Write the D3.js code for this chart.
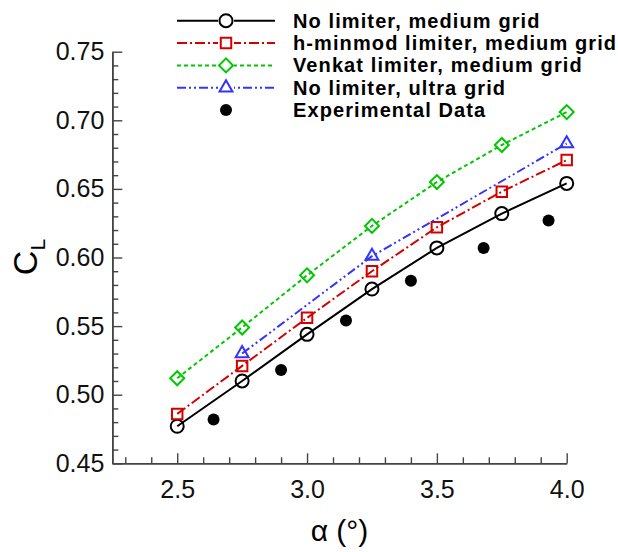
<!DOCTYPE html>
<html>
<head>
<meta charset="utf-8">
<script src="https://cdn.jsdelivr.net/npm/d3@7"></script>
<style>
  body { margin: 0; background: #fff; }
  text { font-family: "Liberation Sans", Arial, Helvetica, sans-serif; }
</style>
</head>
<body>
<div class="chart"></div>
<script>
const WIDTH = 618;
const HEIGHT = 552;

// data
const alpha = [2.5, 2.75, 3.0, 3.25, 3.5, 3.75, 4.0];
const noLimiterMedium = [0.477, 0.510, 0.544, 0.577, 0.607, 0.632, 0.654];
const hMinmodMedium = [0.486, 0.521, 0.556, 0.590, 0.622, 0.648, 0.671];
const venkatMedium = [0.512, 0.549, 0.587, 0.623, 0.655, 0.682, 0.706];
const ultraAlpha = [2.75, 3.25, 4.0];
const noLimiterUltra = [0.530, 0.601, 0.683];
const expAlpha = [2.64, 2.90, 3.15, 3.40, 3.68, 3.93];
const expCL = [0.482, 0.518, 0.554, 0.583, 0.607, 0.627];

const xMajor = [2.5, 3.0, 3.5, 4.0];
const xMinor = [2.3, 2.4, 2.6, 2.7, 2.8, 2.9, 3.1, 3.2, 3.3, 3.4, 3.6, 3.7, 3.8, 3.9];
const yMajor = [0.45, 0.50, 0.55, 0.60, 0.65, 0.70, 0.75];
const yMinor = [0.46, 0.47, 0.48, 0.49, 0.51, 0.52, 0.53, 0.54, 0.56, 0.57, 0.58, 0.59,
  0.61, 0.62, 0.63, 0.64, 0.66, 0.67, 0.68, 0.69, 0.71, 0.72, 0.73, 0.74];

const legendNames = [
  'No limiter, medium grid',
  'h-minmod limiter, medium grid',
  'Venkat limiter, medium grid',
  'No limiter, ultra grid',
  'Experimental Data'
];

const svg = d3.select('.chart')
  .append('svg')
  .attr('width', WIDTH)
  .attr('height', HEIGHT);

const x = d3.scaleLinear().domain([2.25, 4.0]).range([112.3, 566.7]);
const y = d3.scaleLinear().domain([0.45, 0.75]).range([463.3, 51.7]);

const AXIS_COLOR = '#444';

// axes (ticks point inward)
function styleAxis(g) {
  g.selectAll('path').attr('stroke', AXIS_COLOR).attr('stroke-width', 1.6);
  g.selectAll('line').attr('stroke', AXIS_COLOR).attr('stroke-width', 1.4);
  g.selectAll('text').attr('fill', '#111').style('font-size', '25px')
    .style('font-family', '"Liberation Sans", Arial, sans-serif');
}

svg.append('g')
  .attr('transform', `translate(0, ${y(0.45)})`)
  .call(d3.axisBottom(x).tickValues(xMinor).tickSizeInner(-6).tickSizeOuter(0).tickFormat(''))
  .call(styleAxis);

svg.append('g')
  .attr('transform', `translate(0, ${y(0.45)})`)
  .call(d3.axisBottom(x).tickValues(xMajor).tickSizeInner(-10).tickSizeOuter(0)
    .tickPadding(17).tickFormat(d3.format('.1f')))
  .call(styleAxis);

svg.append('g')
  .attr('transform', `translate(${x(2.25)}, 0)`)
  .call(d3.axisLeft(y).tickValues(yMinor).tickSizeInner(-6).tickSizeOuter(0).tickFormat(''))
  .call(styleAxis);

svg.append('g')
  .attr('transform', `translate(${x(2.25)}, 0)`)
  .call(d3.axisLeft(y).tickValues(yMajor).tickSizeInner(-10).tickSizeOuter(0)
    .tickPadding(8).tickFormat(d3.format('.2f')))
  .call(styleAxis);

// axis titles
svg.append('text')
  .attr('x', (x(2.25) + x(4.0)) / 2)
  .attr('y', 541)
  .attr('text-anchor', 'middle')
  .style('font-size', '30px')
  .text('α (°)');

const cl = svg.append('text')
  .attr('transform', `translate(37, 257) rotate(-90)`)
  .attr('text-anchor', 'middle')
  .style('font-size', '34px');
cl.append('tspan').text('C');
cl.append('tspan').attr('dy', 8).style('font-size', '21px').text('L');

// series
const series = [
  { xs: alpha, ys: noLimiterMedium, color: '#000', dash: null, sym: 'circle' },
  { xs: alpha, ys: hMinmodMedium, color: '#d40000', dash: '10,3,2,3', sym: 'square' },
  { xs: alpha, ys: venkatMedium, color: '#00c800', dash: '4,3', sym: 'diamond' },
  { xs: ultraAlpha, ys: noLimiterUltra, color: '#3333ff', dash: '9,3,2,3,2,3', sym: 'triangle' }
];

function symbolPath(kind) {
  if (kind === 'circle') return d3.symbol(d3.symbolCircle, 133)();
  if (kind === 'square') return d3.symbol(d3.symbolSquare, 110)();
  if (kind === 'diamond') return d3.symbol(d3.symbolSquare, 98)();
  return d3.symbol(d3.symbolTriangle, 72)();
}

function drawMarker(g, kind, cx, cy, color) {
  g.append('path')
    .attr('d', symbolPath(kind))
    .attr('transform', `translate(${cx}, ${cy})` + (kind === 'diamond' ? ' rotate(45)' : ''))
    .attr('fill', 'none')
    .attr('stroke', color)
    .attr('stroke-width', 2);
}

const line = d3.line().x(d => x(d[0])).y(d => y(d[1]));

series.forEach(s => {
  const pts = s.xs.map((v, i) => [v, s.ys[i]]);
  const g = svg.append('g');
  pts.forEach(p => drawMarker(g, s.sym, x(p[0]), y(p[1]), s.color));
  g.append('path')
    .attr('d', line(pts))
    .attr('fill', 'none')
    .attr('stroke', s.color)
    .attr('stroke-width', 2)
    .attr('stroke-dasharray', s.dash);
});

svg.append('g')
  .selectAll('circle')
  .data(expAlpha)
  .enter()
  .append('circle')
  .attr('cx', d => x(d))
  .attr('cy', (d, i) => y(expCL[i]))
  .attr('r', 6)
  .attr('fill', '#000');

// legend
const legend = svg.append('g');
legendNames.forEach((name, i) => {
  const cy = 20.7 + i * 22.35;
  if (i < 4) {
    const s = series[i];
    legend.append('line')
      .attr('x1', 177).attr('x2', 275)
      .attr('y1', cy).attr('y2', cy)
      .attr('stroke', s.color)
      .attr('stroke-width', 2)
      .attr('stroke-dasharray', s.dash);
    legend.append('rect')
      .attr('x', 218).attr('y', cy - 8).attr('width', 16).attr('height', 16)
      .attr('fill', '#fff');
    drawMarker(legend, s.sym, 226, cy, s.color);
  } else {
    legend.append('circle').attr('cx', 226).attr('cy', cy).attr('r', 6).attr('fill', '#000');
  }
  legend.append('text')
    .attr('x', 293)
    .attr('y', cy + 7)
    .style('font-size', '20px')
    .style('font-weight', 'bold')
    .style('letter-spacing', '1.1px')
    .text(name);
});
</script>
</body>
</html>
